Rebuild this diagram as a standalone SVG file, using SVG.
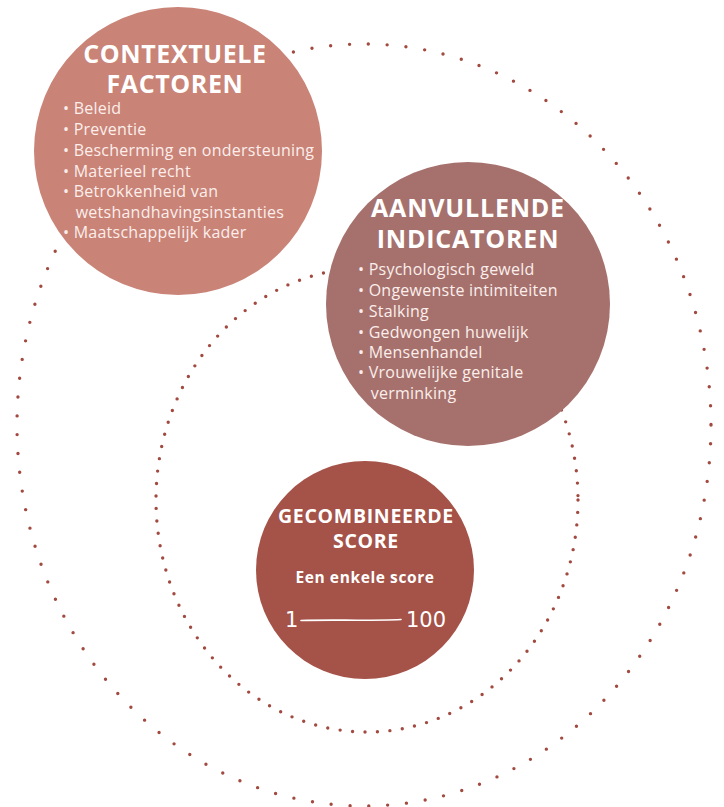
<svg xmlns="http://www.w3.org/2000/svg" width="724" height="807" viewBox="0 0 724 807">
<style>
.ring{fill:none;stroke:#A24A40;stroke-linecap:round;stroke-width:3.4}
.head{font-family:"Open Sans","Noto Sans","Liberation Sans",sans-serif;font-weight:700;fill:#FFFFFF;text-anchor:middle}
.item{font-family:"Open Sans","Noto Sans","Liberation Sans",sans-serif;font-weight:400;font-size:16px;letter-spacing:0.25px;fill:#FBEEEB}
.hand{font-family:"DejaVu Sans","Liberation Sans",sans-serif;font-size:21px;fill:#FFFFFF}
</style>
<rect width="724" height="807" fill="#FFFFFF"/>
<g id="rings">
<ellipse class="ring" cx="364" cy="425" rx="347" ry="381" stroke-dasharray="0 18.9"/>
<ellipse class="ring" cx="367" cy="500" rx="211" ry="232" stroke-dasharray="0 12.5"/>
</g>
<g id="contextuele-factoren">
<circle cx="178" cy="151" r="144" fill="#C98377"/>
<text class="head" x="175" y="63" font-size="25" letter-spacing="0.6">CONTEXTUELE</text>
<text class="head" x="175" y="93" font-size="25" letter-spacing="0.6">FACTOREN</text>
<text class="item" x="63" y="114">• Beleid</text>
<text class="item" x="63" y="135">• Preventie</text>
<text class="item" x="63" y="156">• Bescherming en ondersteuning</text>
<text class="item" x="63" y="177">• Materieel recht</text>
<text class="item" x="63" y="197">• Betrokkenheid van</text>
<text class="item" x="75.7" y="218">wetshandhavingsinstanties</text>
<text class="item" x="63" y="238">• Maatschappelijk kader</text>
</g>
<g id="aanvullende-indicatoren">
<circle cx="468" cy="304" r="142" fill="#A6716D"/>
<text class="head" x="468" y="217" font-size="25" letter-spacing="0.8">AANVULLENDE</text>
<text class="head" x="468" y="248" font-size="25" letter-spacing="0.8">INDICATOREN</text>
<text class="item" x="358" y="275">• Psychologisch geweld</text>
<text class="item" x="358" y="296">• Ongewenste intimiteiten</text>
<text class="item" x="358" y="317">• Stalking</text>
<text class="item" x="358" y="337.5">• Gedwongen huwelijk</text>
<text class="item" x="358" y="357.5">• Mensenhandel</text>
<text class="item" x="358" y="378">• Vrouwelijke genitale</text>
<text class="item" x="370.7" y="399">verminking</text>
</g>
<g id="gecombineerde-score">
<circle cx="365" cy="570" r="109" fill="#A55248"/>
<text class="head" x="366" y="523" font-size="19.5" letter-spacing="0.7">GECOMBINEERDE</text>
<text class="head" x="366" y="548" font-size="19.5" letter-spacing="0.7">SCORE</text>
<text class="head" x="365" y="583" font-size="15.5" letter-spacing="0.6">Een enkele score</text>
<text class="hand" x="285" y="627">1</text>
<path d="M301 620.5 C330 619.5 370 621 401 619.5" fill="none" stroke="#FFFFFF" stroke-width="1.6" stroke-linecap="round"/>
<text class="hand" x="406" y="627">100</text>
</g>
</svg>
